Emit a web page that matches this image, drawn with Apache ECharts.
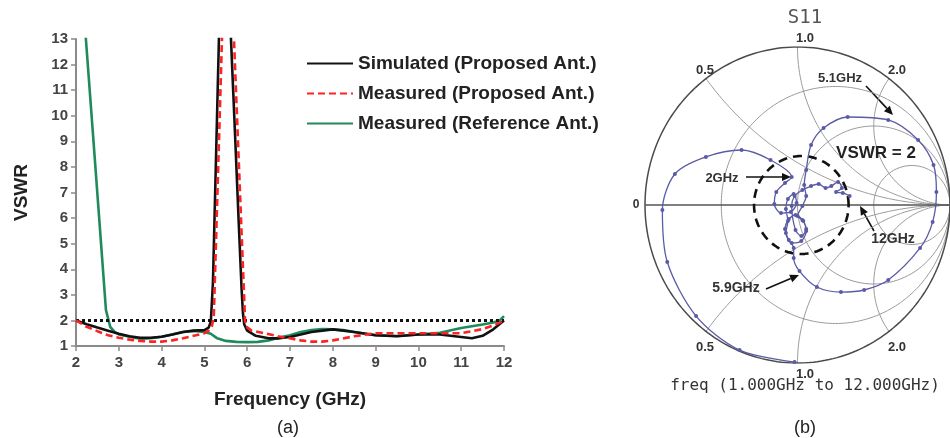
<!DOCTYPE html>
<html>
<head>
<meta charset="utf-8">
<script src="https://cdn.jsdelivr.net/npm/echarts@6/dist/echarts.min.js"></script>
<style>
html, body { margin: 0; padding: 0; background: #fff; }
#main { width: 950px; height: 438px; }
</style>
</head>
<body>
<div id="main"></div>
<script>
// (a) VSWR curves
var simFreq = [2, 2.25, 2.5, 2.75, 3, 3.25, 3.5, 3.75, 4, 4.25, 4.5, 4.75, 5, 5.1, 5.15, 5.2, 5.3, 5.36,
    5.58, 5.7, 5.8, 5.87, 5.9, 5.93, 6.0, 6.2, 6.5, 6.75, 7, 7.5, 8, 8.5, 9, 9.5, 10, 10.5, 10.75, 11, 11.25, 11.5, 11.75, 12];
var simVswr = [2.0, 1.85, 1.72, 1.6, 1.48, 1.38, 1.32, 1.32, 1.36, 1.45, 1.55, 1.6, 1.62, 1.72, 1.95, 3.5, 10.3, 14.4,
    14.6, 9.9, 5.9, 3.2, 2.3, 1.85, 1.6, 1.4, 1.3, 1.3, 1.35, 1.55, 1.65, 1.55, 1.42, 1.38, 1.45, 1.45, 1.4, 1.35, 1.3, 1.4, 1.65, 2.0];

var measFreq = [2, 2.25, 2.5, 2.75, 3, 3.25, 3.5, 3.75, 4, 4.25, 4.5, 4.75, 5, 5.1, 5.18, 5.22, 5.3, 5.43,
    5.66, 5.8, 5.9, 5.93, 5.95, 5.98, 6.1, 6.4, 6.75, 7, 7.25, 7.5, 7.75, 8, 8.5, 9, 9.5, 10, 10.5, 11, 11.25, 11.5, 11.75, 12];
var measVswr = [2.0, 1.75, 1.58, 1.42, 1.32, 1.25, 1.2, 1.17, 1.17, 1.22, 1.3, 1.4, 1.5, 1.6, 1.8, 2.2, 6.7, 14.1,
    14.3, 8.35, 4.1, 2.85, 2.0, 1.75, 1.6, 1.5, 1.37, 1.3, 1.22, 1.17, 1.17, 1.22, 1.38, 1.5, 1.5, 1.5, 1.5, 1.5, 1.58, 1.66, 1.8, 1.98];

var refFreq = [2.2, 2.4, 2.55, 2.7, 2.8, 2.9, 3.0, 3.25, 3.5, 3.75, 4, 4.25, 4.5, 4.75, 5, 5.15, 5.3, 5.5, 5.75, 6,
    6.25, 6.5, 6.75, 7, 7.25, 7.5, 7.75, 8, 8.25, 8.5, 9, 9.5, 10, 10.5, 11, 11.5, 11.75, 11.9, 12];
var refVswr = [13.7, 9.2, 5.8, 2.4, 1.75, 1.55, 1.45, 1.36, 1.28, 1.3, 1.36, 1.45, 1.55, 1.59, 1.55, 1.48, 1.3, 1.2, 1.16, 1.15,
    1.16, 1.22, 1.33, 1.42, 1.55, 1.62, 1.66, 1.65, 1.62, 1.55, 1.42, 1.39, 1.45, 1.52, 1.7, 1.84, 1.92, 2.0, 2.17];

var vswrLimit = 2;
var seriesNames = ['Simulated (Proposed Ant.)', 'Measured (Proposed Ant.)', 'Measured (Reference Ant.)'];

// (b) S11 trace, reflection coefficient (real, imag) 1 GHz -> 12 GHz
var s11Re = [-0.019, -0.380, -0.665, -0.854, -0.886, -0.804, -0.601, -0.367, -0.177, -0.038,
    -0.082, -0.139, -0.152, -0.108, -0.044, -0.006, -0.025, -0.063, -0.076, -0.063, -0.076, -0.038, 0.025, 0.057, 0.038, 0.0, 0.032, 0.057, 0.044, 0.057,
    0.089, 0.171, 0.329, 0.595, 0.791, 0.892, 0.911, 0.886, 0.804, 0.595, 0.437, 0.285, 0.127, 0.013,
    -0.025, -0.025, -0.057, -0.082, -0.057, -0.013, 0.032, 0.057, 0.025, -0.013, -0.038, -0.019, 0.032, 0.089, 0.139, 0.184, 0.222, 0.266, 0.291, 0.253, 0.297, 0.342];
var s11Im = [-0.994, -0.918, -0.703, -0.361, -0.032, 0.196, 0.304, 0.348, 0.285, 0.177,
    0.139, 0.082, 0.006, -0.051, -0.044, 0.013, 0.070, 0.038, -0.025, -0.101, -0.177, -0.241, -0.228, -0.165, -0.101, -0.070, -0.006, 0.057, 0.127, 0.222,
    0.380, 0.487, 0.557, 0.538, 0.411, 0.253, 0.082, -0.108, -0.272, -0.475, -0.538, -0.551, -0.519, -0.418,
    -0.335, -0.272, -0.222, -0.152, -0.089, -0.063, -0.095, -0.152, -0.196, -0.158, -0.006, 0.057, 0.095, 0.120, 0.133, 0.108, 0.120, 0.146, 0.108, 0.082, 0.076, 0.057];
var vswrCircle = { re: 0.025, radius: 0.31 };
var rValues = [1 / 3, 1, 3];
var xValues = [0.5, 1, 2, -0.5, -1, -2];

function pairs(xs, ys) {
    var out = [];
    for (var i = 0; i < xs.length; i++) out.push([xs[i], ys[i]]);
    return out;
}

// smith chart grid lines
function circlePts(cx, cy, rad) {
    var pts = [];
    for (var i = 0; i <= 240; i++) {
        var t = 2 * Math.PI * i / 240;
        pts.push([cx + rad * Math.cos(t), cy + rad * Math.sin(t)]);
    }
    return pts;
}
function reactanceArc(x) {
    var pts = [];
    for (var i = 0; i <= 400; i++) {
        var t = i / 400 * 0.998;
        var r = t / (1 - t);
        var d = (r + 1) * (r + 1) + x * x;
        pts.push([(r * r - 1 + x * x) / d, 2 * x / d]);
    }
    pts.push([1, 0]);
    return pts;
}
function gridLine(pts, color, width) {
    return {
        type: 'line', xAxisIndex: 1, yAxisIndex: 1, data: pts, showSymbol: false, silent: true,
        lineStyle: { color: color, width: width }, z: 1
    };
}

var smithSeries = [];
rValues.forEach(function (r) {
    smithSeries.push(gridLine(circlePts(r / (1 + r), 0, 1 / (1 + r)), '#9a9a9a', 1));
});
xValues.forEach(function (x) {
    smithSeries.push(gridLine(reactanceArc(x), '#9a9a9a', 1));
});
smithSeries.push(gridLine(circlePts(0, 0, 1), '#4a4a4a', 1.5));
smithSeries.push(gridLine([[-1, 0], [1, 0]], '#555', 1.5));
smithSeries.push({
    type: 'line', xAxisIndex: 1, yAxisIndex: 1, silent: true, showSymbol: false, z: 4,
    data: circlePts(vswrCircle.re, 0, vswrCircle.radius),
    lineStyle: { color: '#111', width: 2.6, type: [9, 6] }
});
smithSeries.push({
    name: 'S11', type: 'line', xAxisIndex: 1, yAxisIndex: 1, silent: true, z: 5,
    data: pairs(s11Re, s11Im), smooth: 0.3,
    symbol: 'circle', symbolSize: 4, showAllSymbol: true,
    itemStyle: { color: '#5a5aa6' },
    lineStyle: { color: '#5a5aa6', width: 1.3 }
});

function arrow(x1, y1, x2, y2) {
    var a = Math.atan2(y2 - y1, x2 - x1), L = 9, W = 4;
    var bx = x2 - L * Math.cos(a), by = y2 - L * Math.sin(a);
    return [
        { type: 'line', shape: { x1: x1, y1: y1, x2: bx, y2: by }, style: { stroke: '#111', lineWidth: 1.6 } },
        { type: 'polygon', shape: { points: [[x2, y2], [bx - W * Math.sin(a), by + W * Math.cos(a)], [bx + W * Math.sin(a), by - W * Math.cos(a)]] }, style: { fill: '#111' } }
    ];
}
function txt(s, x, y, size, bold, color, family) {
    return {
        type: 'text', x: x, y: y, z: 10,
        style: {
            text: s, fontSize: size, fontWeight: bold ? 'bold' : 'normal',
            fill: color || '#333', fontFamily: family || 'Liberation Sans',
            align: 'center', verticalAlign: 'middle'
        }
    };
}

var myChart = echarts.init(document.getElementById('main'));
var font = 'Liberation Sans';

var option = {
    animation: false,
    backgroundColor: '#fff',
    legend: {
        data: seriesNames,
        orient: 'vertical',
        left: 301, top: 49,
        itemWidth: 46, itemHeight: 14, itemGap: 11,
        itemStyle: { opacity: 0 },
        textStyle: { fontSize: 19, fontWeight: 'bold', color: '#222', fontFamily: font }
    },
    grid: [
        { left: 76, top: 39, width: 428, height: 307 },
        { left: 645, top: 47, width: 316, height: 316 }
    ],
    xAxis: [{
        type: 'value', min: 2, max: 12, interval: 1,
        name: 'Frequency (GHz)', nameLocation: 'middle', nameGap: 44,
        nameTextStyle: { fontSize: 19, fontWeight: 'bold', color: '#222', fontFamily: font },
        axisLine: { lineStyle: { color: '#8a8a8a', width: 2 } },
        axisTick: { length: 5, lineStyle: { color: '#8a8a8a', width: 1.5 } },
        axisLabel: { margin: 9, fontSize: 15, fontWeight: 'bold', color: '#444', fontFamily: font },
        splitLine: { show: false }
    }, {
        type: 'value', gridIndex: 1, min: -1, max: 1, show: false
    }],
    yAxis: [{
        type: 'value', min: 1, max: 13, interval: 1,
        name: 'VSWR', nameLocation: 'middle', nameGap: 45, nameRotate: 90,
        nameTextStyle: { fontSize: 19, fontWeight: 'bold', color: '#222', fontFamily: font },
        axisLine: { show: true, lineStyle: { color: '#8a8a8a', width: 2 } },
        axisTick: { show: true, length: 5, lineStyle: { color: '#8a8a8a', width: 1.5 } },
        axisLabel: { margin: 8, fontSize: 15, fontWeight: 'bold', color: '#444', fontFamily: font },
        splitLine: { show: false }
    }, {
        type: 'value', gridIndex: 1, min: -1, max: 1, show: false
    }],
    series: [{
        name: seriesNames[0], type: 'line', data: pairs(simFreq, simVswr),
        showSymbol: false, symbol: 'none', z: 4,
        lineStyle: { color: '#111', width: 2.6 }, itemStyle: { color: '#111' },
        markLine: {
            silent: true, symbol: 'none', label: { show: false },
            lineStyle: { color: '#111', width: 3, type: [3, 3] },
            data: [{ yAxis: vswrLimit }]
        }
    }, {
        name: seriesNames[1], type: 'line', data: pairs(measFreq, measVswr),
        showSymbol: false, symbol: 'none', z: 5,
        lineStyle: { color: '#f22', width: 2.6, type: [7, 4] }, itemStyle: { color: '#f22' }
    }, {
        name: seriesNames[2], type: 'line', data: pairs(refFreq, refVswr),
        showSymbol: false, symbol: 'none', z: 3,
        lineStyle: { color: '#1f8a5c', width: 2.6 }, itemStyle: { color: '#1f8a5c' }
    }].concat(smithSeries),
    graphic: [].concat(
        arrow(866, 86, 893, 115),
        arrow(746, 177, 791, 177),
        arrow(874, 231, 860, 206),
        arrow(766, 289, 799, 275),
        [
            txt('S11', 805, 18, 19, false, '#555', 'DejaVu Sans Mono'),
            txt('1.0', 805, 38, 13, true),
            txt('0.5', 705, 70, 13, true),
            txt('2.0', 897, 70, 13, true),
            txt('0', 636, 205, 12, true),
            txt('0.5', 705, 347, 13, true),
            txt('1.0', 805, 374, 13, true),
            txt('2.0', 897, 347, 13, true),
            txt('5.1GHz', 840, 78, 13, true),
            txt('VSWR = 2', 876, 153, 17, true, '#222'),
            txt('2GHz', 722, 178, 13, true),
            txt('12GHz', 893, 239, 14, true),
            txt('5.9GHz', 736, 288, 14, true),
            txt('freq (1.000GHz to 12.000GHz)', 805, 386, 16, false, '#333', 'DejaVu Sans Mono'),
            txt('(a)', 288, 428, 18, false, '#222'),
            txt('(b)', 805, 428, 18, false, '#222')
        ]
    )
};

myChart.setOption(option);
</script>
</body>
</html>
